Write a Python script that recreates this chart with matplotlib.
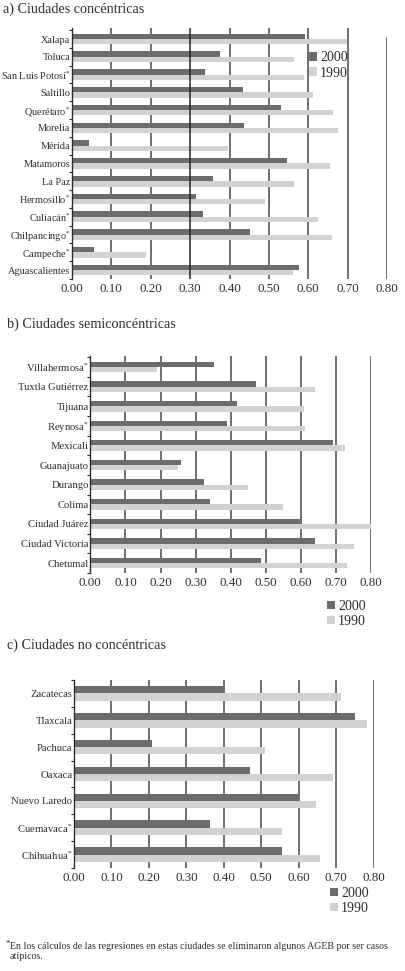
import matplotlib
matplotlib.use("Agg")
import matplotlib.pyplot as plt
import numpy as np
from matplotlib.patches import Patch

plt.rcParams['font.family'] = ['Liberation Serif', 'DejaVu Serif']
plt.rcParams['mathtext.fontset'] = 'custom'
plt.rcParams['mathtext.rm'] = 'Liberation Serif'
plt.rcParams['mathtext.it'] = 'Liberation Serif'

# ---------------- data ----------------
cities_a = ["Xalapa", "Toluca", "San Luis Potosí", "Saltillo", "Querétaro", "Morelia",
            "Mérida", "Matamoros", "La Paz", "Hermosillo", "Culiacán", "Chilpancingo",
            "Campeche", "Aguascalientes"]
v2000_a = [0.593, 0.376, 0.337, 0.434, 0.531, 0.436, 0.043, 0.547, 0.359, 0.316, 0.332, 0.453, 0.055, 0.576]
v1990_a = [0.698, 0.564, 0.590, 0.612, 0.663, 0.675, 0.397, 0.654, 0.564, 0.491, 0.625, 0.661, 0.189, 0.560]

cities_b = ["Villahermosa", "Tuxtla Gutiérrez", "Tijuana", "Reynosa", "Mexicali", "Guanajuato",
            "Durango", "Colima", "Ciudad Juárez", "Ciudad Victoria", "Chetumal"]
v2000_b = [0.352, 0.472, 0.418, 0.389, 0.691, 0.257, 0.323, 0.342, 0.598, 0.639, 0.485]
v1990_b = [0.191, 0.641, 0.608, 0.610, 0.726, 0.250, 0.449, 0.548, 0.800, 0.752, 0.730]

cities_c = ["Zacatecas", "Tlaxcala", "Pachuca", "Oaxaca", "Nuevo Laredo", "Cuernavaca", "Chihuahua"]
v2000_c = [0.398, 0.751, 0.208, 0.471, 0.601, 0.363, 0.554]
v1990_c = [0.713, 0.782, 0.510, 0.692, 0.645, 0.554, 0.656]

starred = {"San Luis Potosí", "Querétaro", "Hermosillo", "Culiacán", "Chilpancingo", "Campeche",
           "Villahermosa", "Reynosa", "Cuernavaca", "Chihuahua"}

xticks = [0.0, 0.1, 0.2, 0.3, 0.4, 0.5, 0.6, 0.7, 0.8]
xticklabels = ["0.00", "0.10", "0.20", "0.30", "0.40", "0.50", "0.60", "0.70", "0.80"]
series_labels = ["2000", "1990"]
titles = ["a) Ciudades concéntricas", "b) Ciudades semiconcéntricas", "c) Ciudades no concéntricas"]
footnote = "En los cálculos de las regresiones en estas ciudades se eliminaron algunos AGEB por ser casos\natípicos."

C2000 = "#6c6c6c"
C1990 = "#d2d2d2"
GRID = "#484848"
TXT = "#2e2e2e"

W, H = 406, 971
fig = plt.figure(figsize=(W / 100, H / 100), dpi=100)


def px_axes(left, right, top, bottom):
    return fig.add_axes([left / W, 1 - bottom / H, (right - left) / W, (bottom - top) / H])


def draw_panel(ax, cities, a2000, a1990, bh, ylim, special=False, lab_fs=7.7):
    y = np.arange(len(cities))
    ax.barh(y - bh / 2, a2000, height=bh, color=C2000, zorder=2)
    ax.barh(y + bh / 2, a1990, height=bh, color=C1990, zorder=2)
    ax.set_xlim(0, 0.8)
    ax.set_ylim(*ylim)
    for t in xticks[1:]:
        if special and abs(t - 0.3) < 1e-9:
            ax.axvline(t, color="#262626", lw=1.1, zorder=3)
        elif special and abs(t - 0.8) < 1e-9:
            ax.axvline(t, ymin=0, ymax=0.96, color=GRID, lw=1.1, zorder=1)
        else:
            ax.axvline(t, color=GRID, lw=1.1, zorder=1)
    ax.set_xticks(xticks)
    ax.set_xticklabels(xticklabels, fontsize=9.4, color=TXT)
    ax.tick_params(axis='x', length=0, pad=3)
    labels = [c + ("$^{*}$" if c in starred else "") for c in cities]
    ax.set_yticks(y)
    ax.set_yticklabels(labels, fontsize=lab_fs, color=TXT)
    ax.tick_params(axis='y', which='major', length=0, pad=1.2)
    ax.set_yticks(np.arange(len(cities) + 1) - 0.5, minor=True)
    ax.tick_params(axis='y', which='minor', length=2.5, width=0.8, color=TXT, direction='out')
    for s in ["top", "right", "bottom"]:
        ax.spines[s].set_visible(False)
    ax.spines["left"].set_color(TXT)
    ax.spines["left"].set_linewidth(1.0)
    ax.patch.set_alpha(0)


handles = [Patch(facecolor=C2000, edgecolor='none'), Patch(facecolor=C1990, edgecolor='none')]


def legend_at(x_px, y_mid_px):
    fig.legend(handles, series_labels, loc='center left',
               bbox_to_anchor=(x_px / W, 1 - y_mid_px / H), frameon=False,
               fontsize=10, handlelength=0.55, handleheight=0.55, handletextpad=0.25,
               labelspacing=0.15, borderpad=0, borderaxespad=0, labelcolor=TXT)


# Panel a
ax_a = px_axes(72, 387, 28, 279)
draw_panel(ax_a, cities_a, v2000_a, v1990_a, 0.30, (13.44, -0.62), special=True, lab_fs=7.4)
fig.text(3 / W, 1 - 9 / H, titles[0], fontsize=10.2, va='center', ha='left', color=TXT)
legend_at(309, 65.5)

# Panel b
ax_b = px_axes(90.3, 371.3, 356, 573)
draw_panel(ax_b, cities_b, v2000_b, v1990_b, 0.27, (10.46, -0.56))
fig.text(7 / W, 1 - 324 / H, titles[1], fontsize=10.2, va='center', ha='left', color=TXT)
legend_at(327, 614)

# Panel c
ax_c = px_axes(74, 373.7, 680, 868)
draw_panel(ax_c, cities_c, v2000_c, v1990_c, 0.27, (6.48, -0.47))
fig.text(7 / W, 1 - 645 / H, titles[2], fontsize=10.2, va='center', ha='left', color=TXT)
legend_at(330, 901)

# Footnote
fig.text(6 / W, 1 - 944 / H, "*", fontsize=6, va='center', ha='left', color=TXT)
fig.text(10 / W, 1 - 941.5 / H, footnote, fontsize=7.1, va='top', ha='left', color=TXT,
         linespacing=1.2)

fig.savefig("out.png", dpi=100)
